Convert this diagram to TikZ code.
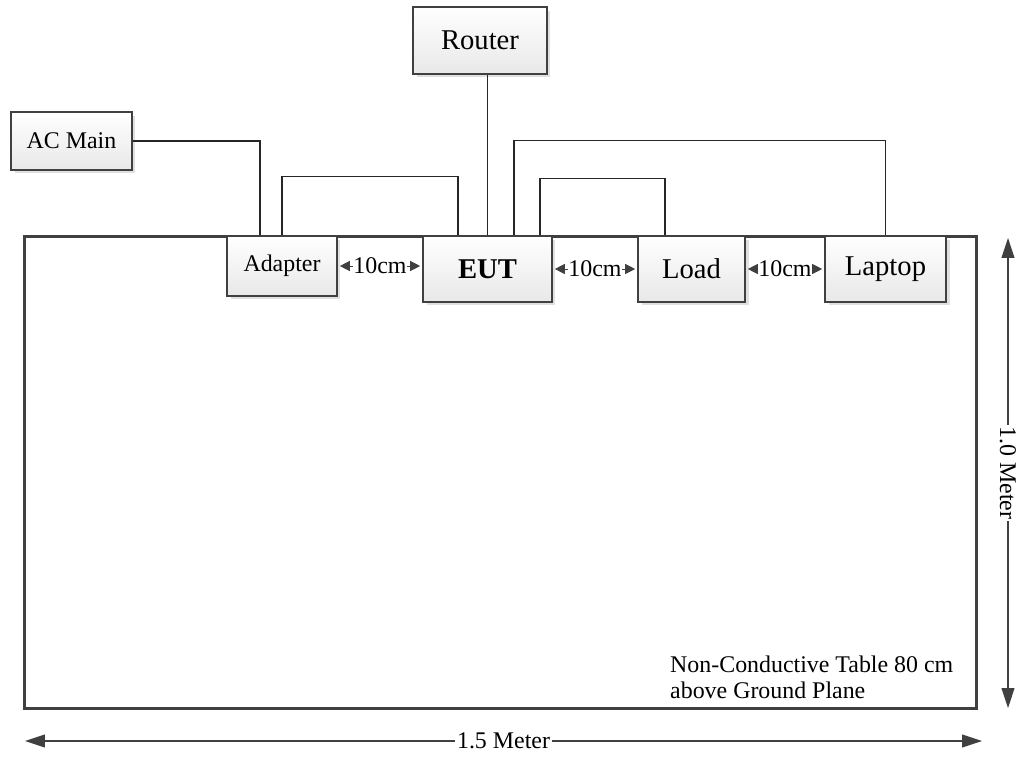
\documentclass[tikz,border=0pt]{standalone}
\usepackage{fontspec}
\setmainfont{Liberation Serif}
\usetikzlibrary{arrows.meta,shadows}
\definecolor{edge}{HTML}{404040}

\begin{document}
\begin{tikzpicture}[
  x=0.02cm, y=-0.02cm,
  box/.style={draw=edge, line width=1.5pt, top color=white, bottom color=black!9,
    drop shadow={shadow xshift=0.07cm, shadow yshift=-0.07cm, fill=black!12, opacity=1},
    inner sep=0pt},
  small/.style={font=\fontsize{13.6}{14.5}\selectfont, text=black},
  big/.style={font=\fontsize{16.3}{19}\selectfont, text=black},
  wire/.style={line width=0.6pt, black!85},
  gap/.style={{Triangle[length=0.2cm,width=0.2cm]}-{Triangle[length=0.2cm,width=0.2cm]},
    edge, line width=0.5pt, shorten <=0.03cm, shorten >=0.03cm},
  dim/.style={{Triangle[length=0.4cm,width=0.26cm]}-{Triangle[length=0.4cm,width=0.26cm]},
    edge, line width=0.6pt}
]
  \useasboundingbox (0,0) rectangle (1017,757);
  % the table
  \node[draw=edge, line width=1.7pt, minimum width=19.06cm, minimum height=9.46cm] (table) at (500.5,472.5) {};
  \node[small, align=left, anchor=west] (note) at (664,677.5) {Non-Conductive Table 80 cm\\above Ground Plane};

  % units
  \node[box, small, minimum width=2.42cm, minimum height=1.16cm] (acmain) at (71.5,141) {AC Main};
  \node[box, big, minimum width=2.68cm, minimum height=1.34cm] (router) at (480,40.5) {Router};
  \node[box, small, minimum width=2.2cm, minimum height=1.2cm] (adapter) at (282,266) {Adapter};
  \node[box, big, minimum width=2.58cm, minimum height=1.32cm] (eut) at (487.5,269) {\textbf{EUT}};
  \node[box, big, minimum width=2.14cm, minimum height=1.32cm] (load) at (691.5,269) {Load};
  \node[box, big, minimum width=2.42cm, minimum height=1.32cm] (laptop) at (885.5,269) {Laptop};

  % cables
  \draw[wire] (acmain.east) -| ([xshift=-0.44cm]adapter.north);
  \draw[wire] (adapter.north) -- ++(0,-58) -| ([xshift=-0.59cm]eut.north);
  \draw[wire] (eut.north) -- (eut.north |- router.south);
  \draw[wire] ([xshift=0.53cm]eut.north) -- ++(0,-94) -| (laptop.north);
  \draw[wire] ([xshift=1.05cm]eut.north) -- ++(0,-56) -| ([xshift=-0.53cm]load.north);

  % spacing
  \draw[gap] (adapter.east) -- (adapter.east -| eut.west) node[midway, fill=white, inner sep=0.5pt, small] {10cm};
  \draw[gap] (eut.west -| eut.east) -- (load.west) node[midway, fill=white, inner sep=0.5pt, small] {10cm};
  \draw[gap] (load.east) -- (laptop.west) node[midway, fill=white, inner sep=0.5pt, small] {10cm};

  % dimensions
  \coordinate (vtop) at (1008,238);
  \coordinate (vbot) at (1008,708);
  \coordinate (hleft) at (25,741);
  \coordinate (hright) at (982,741);
  \draw[dim] (vtop) -- (vbot) node[midway, fill=white, inner sep=1pt, rotate=-90, small] {1.0 Meter};
  \draw[dim] (hleft) -- (hright) node[midway, fill=white, inner sep=1pt, small] {1.5 Meter};
\end{tikzpicture}
\end{document}
